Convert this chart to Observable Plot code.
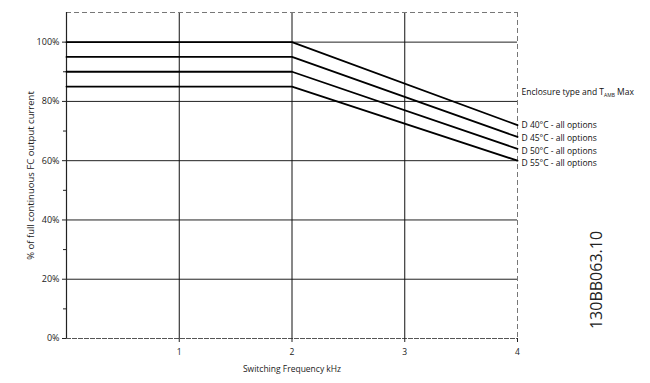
<!DOCTYPE html>
<html><head><meta charset="utf-8">
<script src="https://cdn.jsdelivr.net/npm/d3@7"></script>
<script src="https://cdn.jsdelivr.net/npm/@observablehq/plot@0.6"></script>
<style>
body{margin:0;background:#fff;}
#chart{position:relative;width:650px;height:383px;}
#code{position:absolute;left:596px;top:280px;transform:translate(-50%,-50%) rotate(-90deg);font-family:"Open Sans",sans-serif;font-size:16px;color:#222;white-space:nowrap;}
</style>
</head><body>
<div id="chart"></div>
<script>
const freq = [0, 2, 4];
const seriesNames = ["D 40°C - all options", "D 45°C - all options", "D 50°C - all options", "D 55°C - all options"];
const values40 = [100, 100, 72];
const values45 = [95, 95, 68];
const values50 = [90, 90, 64];
const values55 = [85, 85, 60];
const labelDy = [0.5, 1, 2, 3];
const yMajor = [0, 20, 40, 60, 80, 100];
const yMinor = [10, 30, 50, 70, 90];
const xTicks = [1, 2, 3, 4];
const xLabel = "Switching Frequency kHz";
const yLabel = "% of full continuous FC output current";
const legendTitle = "Enclosure type and T";

const allVals = [values40, values45, values50, values55];
const rows = [];
allVals.forEach((vals, i) => vals.forEach((v, j) => rows.push({s: seriesNames[i], x: freq[j], y: v})));
const ends = allVals.map((vals, i) => ({s: seriesNames[i], x: freq[freq.length-1], y: vals[vals.length-1]}));

const font = "'Open Sans', sans-serif";
const plot = Plot.plot({
  width: 650, height: 383,
  marginLeft: 66, marginRight: 133, marginTop: 12, marginBottom: 45,
  style: {fontFamily: font, fontSize: "8px", color: "#222", background: "#fff"},
  x: {domain: [0, 4]},
  y: {domain: [0, 110]},
  marks: [
    Plot.ruleY([20, 40, 60, 80, 100], {stroke: "#222", strokeWidth: 1}),
    Plot.ruleX([1, 2, 3], {stroke: "#111", strokeWidth: 1}),
    Plot.ruleX([4], {stroke: "#777", strokeWidth: 1, strokeDasharray: "5,3"}),
    Plot.ruleY([110], {stroke: "#777", strokeWidth: 1, strokeDasharray: "5,3"}),
    Plot.ruleY([0], {stroke: "#555", strokeWidth: 1.2, strokeDasharray: "5,1"}),
    Plot.ruleX([0], {stroke: "#222", strokeWidth: 1.2}),
    Plot.axisY({ticks: yMajor, tickFormat: d => d + "%", tickSize: 4, tickPadding: 3, label: null, fontSize: 9}),
    Plot.axisY({ticks: yMinor, text: null, tickSize: 3, label: null}),
    Plot.axisX({ticks: xTicks, tickFormat: d => d, tickSize: 4, tickPadding: 6, label: null, fontSize: 8.5}),
    Plot.text([yLabel], {frameAnchor: "left", textAnchor: "middle", dx: -36, rotate: -90, fontSize: 9.5, fill: "#222"}),
    Plot.text([xLabel], {x: 2, y: 0, dy: 31, fontSize: 8.5, fill: "#222"}),
    Plot.line(rows, {x: "x", y: "y", z: "s", stroke: "#000", strokeWidth: 1.8}),
    ...ends.map((e, i) => Plot.text([e], {x: "x", y: "y", text: "s", dy: labelDy[i], dx: 4, textAnchor: "start", fontSize: 8.5, fill: "#111"})),
    Plot.text([legendTitle], {x: 4, y: 83, dx: 4, textAnchor: "start", fontSize: 8.5, fill: "#111"})
  ]
});
document.getElementById("chart").appendChild(plot);
// add subscript AMB and "Max" to legend title
d3.select(plot).selectAll("text").each(function(){
  const t = d3.select(this);
  if (t.text() === legendTitle) {
    t.text(legendTitle);
    t.append("tspan").attr("font-size", 5).attr("dy", 2).text("AMB");
    t.append("tspan").attr("dy", -2).text(" Max");
  }
});
const code = document.createElement("div");
code.id = "code"; code.textContent = "130BB063.10";
document.getElementById("chart").appendChild(code);
</script>
</body></html>
